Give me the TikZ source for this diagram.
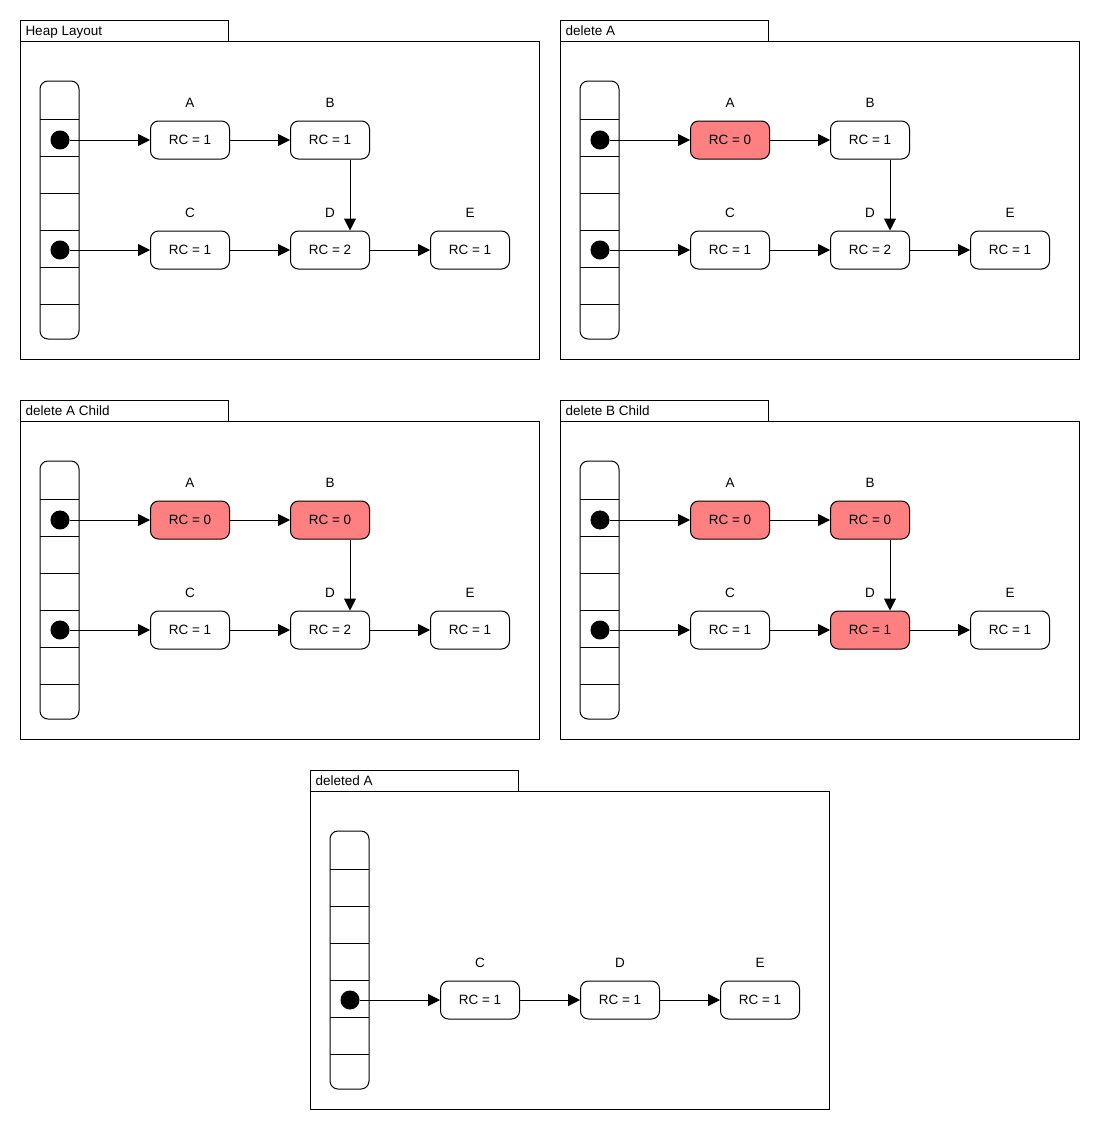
\documentclass[tikz,border=0pt]{standalone}
\usepackage{fontspec}
\setmainfont{Liberation Sans}
\usetikzlibrary{arrows.meta,positioning}
\definecolor{rcred}{HTML}{FF8080}

\tikzset{
  rc/.style={draw,rounded corners=8pt,minimum width=79pt,minimum height=38pt,inner sep=0pt,fill=white},
  rczero/.style={rc,fill=rcred},
  ptr/.style={circle,fill=black,draw,minimum size=18pt,inner sep=0pt},
  ref/.style={-{Triangle[length=12pt,width=12pt]}},
  named/.style={label={[label distance=9pt]above:#1}},
}

% frame with its tab and the stack column, in local coordinates
\newcommand{\heapframe}[1]{%
  \draw (0,0) rectangle (208,21);
  \node[anchor=base west,inner sep=0pt] (title) at (5,15) {#1};
  \draw (0,21) rectangle (519,339);
  \draw[rounded corners=8pt] (20,61) rectangle (59,319);
  \foreach \y in {99,136,173,210,247,284} \draw (20,\y) -- (59,\y);
}

\begin{document}
\begin{tikzpicture}[x=1pt,y=-1pt,line width=1pt,font=\fontsize{13.5}{15}\selectfont]
\useasboundingbox (0,0) rectangle (1100,1130);

% Heap Layout
\begin{scope}[shift={(20,20)}]
  \heapframe{Heap Layout}
  \node[ptr] (p1) at (40,120) {};
  \node[ptr] (q1) at (40,230) {};
  \node[rc,named=A] (a1) at (170,120) {RC = 1};
  \node[rc,named=B,right=60pt of a1] (b1) {RC = 1};
  \node[rc,named=C,below=71pt of a1] (c1) {RC = 1};
  \node[rc,named=D,right=60pt of c1] (d1) {RC = 2};
  \node[rc,named=E,right=60pt of d1] (e1) {RC = 1};
  \draw[ref] (p1) -- (a1);
  \draw[ref] (a1) -- (b1);
  \draw[ref] ([xshift=20pt]b1.south) -- ([xshift=20pt]d1.north);
  \draw[ref] (q1) -- (c1);
  \draw[ref] (c1) -- (d1);
  \draw[ref] (d1) -- (e1);
\end{scope}

% delete A
\begin{scope}[shift={(560,20)}]
  \heapframe{delete A}
  \node[ptr] (p2) at (40,120) {};
  \node[ptr] (q2) at (40,230) {};
  \node[rczero,named=A] (a2) at (170,120) {RC = 0};
  \node[rc,named=B,right=60pt of a2] (b2) {RC = 1};
  \node[rc,named=C,below=71pt of a2] (c2) {RC = 1};
  \node[rc,named=D,right=60pt of c2] (d2) {RC = 2};
  \node[rc,named=E,right=60pt of d2] (e2) {RC = 1};
  \draw[ref] (p2) -- (a2);
  \draw[ref] (a2) -- (b2);
  \draw[ref] ([xshift=20pt]b2.south) -- ([xshift=20pt]d2.north);
  \draw[ref] (q2) -- (c2);
  \draw[ref] (c2) -- (d2);
  \draw[ref] (d2) -- (e2);
\end{scope}

% delete A Child
\begin{scope}[shift={(20,400)}]
  \heapframe{delete A Child}
  \node[ptr] (p3) at (40,120) {};
  \node[ptr] (q3) at (40,230) {};
  \node[rczero,named=A] (a3) at (170,120) {RC = 0};
  \node[rczero,named=B,right=60pt of a3] (b3) {RC = 0};
  \node[rc,named=C,below=71pt of a3] (c3) {RC = 1};
  \node[rc,named=D,right=60pt of c3] (d3) {RC = 2};
  \node[rc,named=E,right=60pt of d3] (e3) {RC = 1};
  \draw[ref] (p3) -- (a3);
  \draw[ref] (a3) -- (b3);
  \draw[ref] ([xshift=20pt]b3.south) -- ([xshift=20pt]d3.north);
  \draw[ref] (q3) -- (c3);
  \draw[ref] (c3) -- (d3);
  \draw[ref] (d3) -- (e3);
\end{scope}

% delete B Child
\begin{scope}[shift={(560,400)}]
  \heapframe{delete B Child}
  \node[ptr] (p4) at (40,120) {};
  \node[ptr] (q4) at (40,230) {};
  \node[rczero,named=A] (a4) at (170,120) {RC = 0};
  \node[rczero,named=B,right=60pt of a4] (b4) {RC = 0};
  \node[rc,named=C,below=71pt of a4] (c4) {RC = 1};
  \node[rczero,named=D,right=60pt of c4] (d4) {RC = 1};
  \node[rc,named=E,right=60pt of d4] (e4) {RC = 1};
  \draw[ref] (p4) -- (a4);
  \draw[ref] (a4) -- (b4);
  \draw[ref] ([xshift=20pt]b4.south) -- ([xshift=20pt]d4.north);
  \draw[ref] (q4) -- (c4);
  \draw[ref] (c4) -- (d4);
  \draw[ref] (d4) -- (e4);
\end{scope}

% deleted A
\begin{scope}[shift={(310,770)}]
  \heapframe{deleted A}
  \node[ptr] (q5) at (40,230) {};
  \node[rc,named=C] (c5) at (170,230) {RC = 1};
  \node[rc,named=D,right=60pt of c5] (d5) {RC = 1};
  \node[rc,named=E,right=60pt of d5] (e5) {RC = 1};
  \draw[ref] (q5) -- (c5);
  \draw[ref] (c5) -- (d5);
  \draw[ref] (d5) -- (e5);
\end{scope}
\end{tikzpicture}
\end{document}
